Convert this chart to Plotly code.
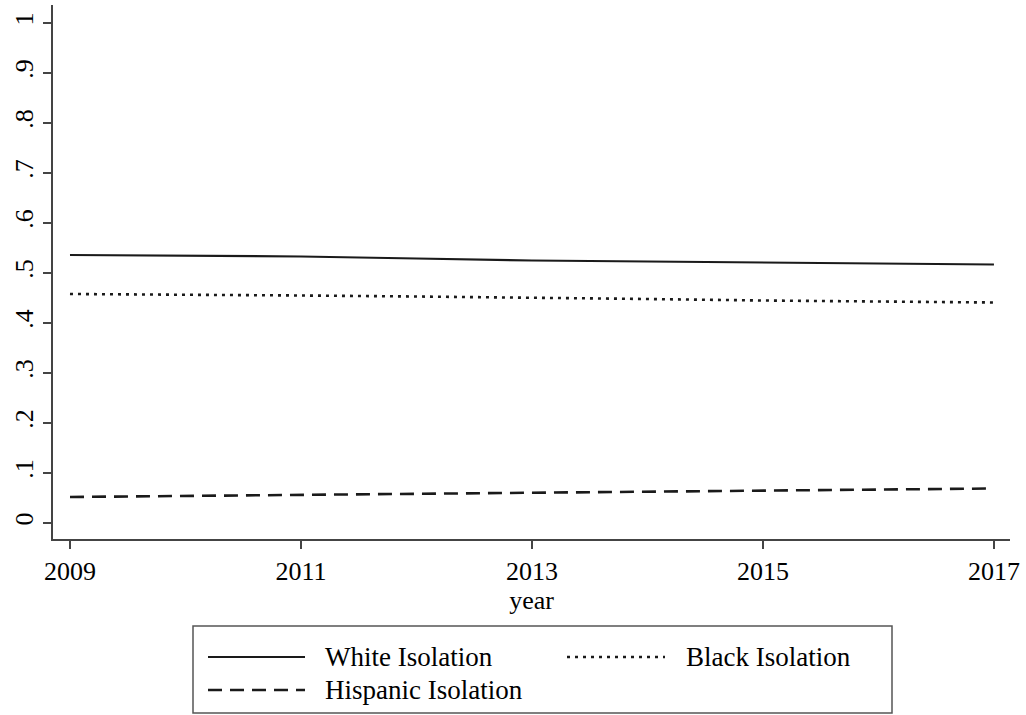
import plotly.graph_objects as go

years = [2009, 2010, 2011, 2012, 2013, 2014, 2015, 2016, 2017]
white_iso = [0.536, 0.535, 0.533, 0.529, 0.525, 0.523, 0.521, 0.519, 0.517]
black_iso = [0.458, 0.457, 0.455, 0.453, 0.451, 0.448, 0.445, 0.443, 0.441]
hisp_iso = [0.052, 0.054, 0.056, 0.058, 0.061, 0.063, 0.065, 0.067, 0.069]

series_names = ["White Isolation", "Black Isolation", "Hispanic Isolation"]
x_ticks = [2009, 2011, 2013, 2015, 2017]
y_ticks = [0, 0.1, 0.2, 0.3, 0.4, 0.5, 0.6, 0.7, 0.8, 0.9, 1]
y_tick_labels = ["0", ".1", ".2", ".3", ".4", ".5", ".6", ".7", ".8", ".9", "1"]

W, H = 1026, 715
ML, MR, MT, MB = 53, 16, 5, 176
PW, PH = W - ML - MR, H - MT - MB

FONT = "Liberation Serif, Times New Roman, serif"
LC = "#1a1a1a"
dashes = ["solid", "3px,5px", "14px,8px"]
widths = [2.2, 2.6, 2.6]

fig = go.Figure()
for name, ys, d, w in zip(series_names, [white_iso, black_iso, hisp_iso], dashes, widths):
    fig.add_trace(go.Scatter(x=years, y=ys, mode="lines", name=name,
                             line=dict(color=LC, width=w, dash=d), showlegend=False))

def px(x):
    return (x - ML) / PW

def py(y):
    return (H - MB - y) / PH

shapes = []
annotations = []
# legend box
shapes.append(dict(type="rect", xref="paper", yref="paper",
                   x0=px(193), x1=px(892), y0=py(713), y1=py(626),
                   line=dict(color="#555555", width=1.5), fillcolor="white"))
legend_items = [
    (series_names[0], dashes[0], widths[0], 208, 305, 323, 657),
    (series_names[1], dashes[1], widths[1], 567, 665, 684, 657),
    (series_names[2], dashes[2], widths[2], 208, 305, 323, 690),
]
for name, d, w, x0, x1, tx, yy in legend_items:
    shapes.append(dict(type="line", xref="paper", yref="paper",
                       x0=px(x0), x1=px(x1), y0=py(yy), y1=py(yy),
                       line=dict(color=LC, width=w, dash=d)))
    annotations.append(dict(xref="paper", yref="paper", x=px(tx), y=py(yy),
                            xanchor="left", yanchor="middle", text=name,
                            showarrow=False, font=dict(family=FONT, size=27, color="black")))

fig.update_layout(
    width=W, height=H,
    margin=dict(l=ML, r=MR, t=MT, b=MB),
    paper_bgcolor="white", plot_bgcolor="white",
    font=dict(family=FONT, size=26, color="black"),
    shapes=shapes, annotations=annotations,
    xaxis=dict(range=[2008.853, 2017.139], tickvals=x_ticks, ticktext=[str(v) for v in x_ticks],
               showgrid=False, zeroline=False, showline=True, linecolor="#444444", linewidth=1.5,
               ticks="outside", ticklen=8, tickwidth=1.5, tickcolor="#444444",
               tickfont=dict(family=FONT, size=26, color="black"),
               title=dict(text="year", font=dict(family=FONT, size=26, color="black"), standoff=4)),
    yaxis=dict(range=[-0.032, 1.036], tickvals=y_ticks, ticktext=y_tick_labels,
               showgrid=False, zeroline=False, showline=True, linecolor="#444444", linewidth=1.5,
               ticks="outside", ticklen=8, tickwidth=1.5, tickcolor="#444444", tickangle=-90,
               tickfont=dict(family=FONT, size=26, color="black")),
)

fig.write_html("out.html")
